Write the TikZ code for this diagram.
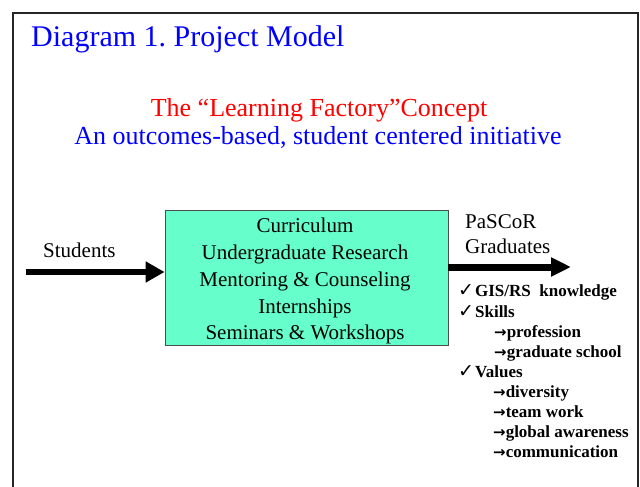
\documentclass[tikz,border=0pt]{standalone}
\usepackage{fontspec}
\setmainfont{Liberation Serif}
\newfontfamily\symfont{DejaVu Sans}
\usetikzlibrary{arrows.meta}

\definecolor{modelgreen}{RGB}{102,255,204}
\newcommand{\chk}{{\symfont\fontsize{19}{19}\selectfont ✓}\hspace{1pt}}
\newcommand{\sarr}{{\symfont\fontsize{15}{15}\selectfont →}}
\newcommand{\varr}{{\symfont\bfseries\fontsize{15}{15}\selectfont →}}

\tikzset{
  frame/.style={draw=black!85,line width=2pt},
  heading/.style={anchor=base west,inner sep=0pt,text=blue,font=\fontsize{30}{30}\selectfont},
  subline/.style={anchor=base,inner sep=0pt,font=\fontsize{26}{26}\selectfont},
  modelbox/.style={draw=black!70,line width=0.8pt,fill=modelgreen,minimum width=283pt,minimum height=135pt,inner sep=0pt},
  boxline/.style={anchor=base,inner sep=0pt,font=\fontsize{21}{21}\selectfont},
  flowlabel/.style={anchor=base west,inner sep=0pt,font=\fontsize{21}{21}\selectfont},
  outcome/.style={anchor=base west,inner sep=0pt,font=\fontsize{17}{17}\selectfont\bfseries},
  inarrow/.style={line width=6pt,-{Triangle[length=19pt,width=20pt]}},
  outarrow/.style={line width=7pt,-{Triangle[length=20pt,width=18pt]}}
}

\begin{document}
\begin{tikzpicture}[x=1pt,y=-1pt]
\useasboundingbox (0,0) rectangle (640,487);
\draw[frame] (13,487) -- (13,13) -- (638,13) -- (638,487);

\node[heading] (title) at (31,47) {Diagram 1.\ Project Model};
\node[subline,text=red] (concept) at (319,117) {The “Learning Factory”Concept};
\node[subline,text=blue] (aim) at (318,144) {An outcomes-based, student centered initiative};

% the model box
\node[modelbox] (model) at (306.5,277.5) {};
\node[boxline] (curriculum) at (305,232) {Curriculum};
\node[boxline] (research) at (305,259) {Undergraduate Research};
\node[boxline] (mentoring) at (305,286) {Mentoring \& Counseling};
\node[boxline] (internships) at (305,313) {Internships};
\node[boxline] (seminars) at (305,339) {Seminars \& Workshops};

% in and out
\node[flowlabel] (students) at (43,257) {Students};
\coordinate (in) at (26,272);
\draw[inarrow] (in) -- (model.west |- in);
\node[flowlabel] (pascor) at (465,228) {PaSCoR};
\node[flowlabel] (graduates) at (465,253) {Graduates};
\coordinate (out) at (571,267);
\draw[outarrow] (model.east |- out) -- (out);

% outcomes
\node[outcome] (gis) at (458,296) {\chk GIS/RS\ \ knowledge};
\node[outcome] (skills) at (458,317) {\chk Skills};
\node[outcome] (profession) at (494,337) {\sarr profession};
\node[outcome] (gradschool) at (494,357) {\sarr graduate school};
\node[outcome] (values) at (458,377) {\chk Values};
\node[outcome] (diversity) at (493,397) {\varr diversity};
\node[outcome] (teamwork) at (493,417) {\varr team work};
\node[outcome] (awareness) at (493,437) {\varr global awareness};
\node[outcome] (communication) at (493,457) {\varr communication};
\end{tikzpicture}
\end{document}
